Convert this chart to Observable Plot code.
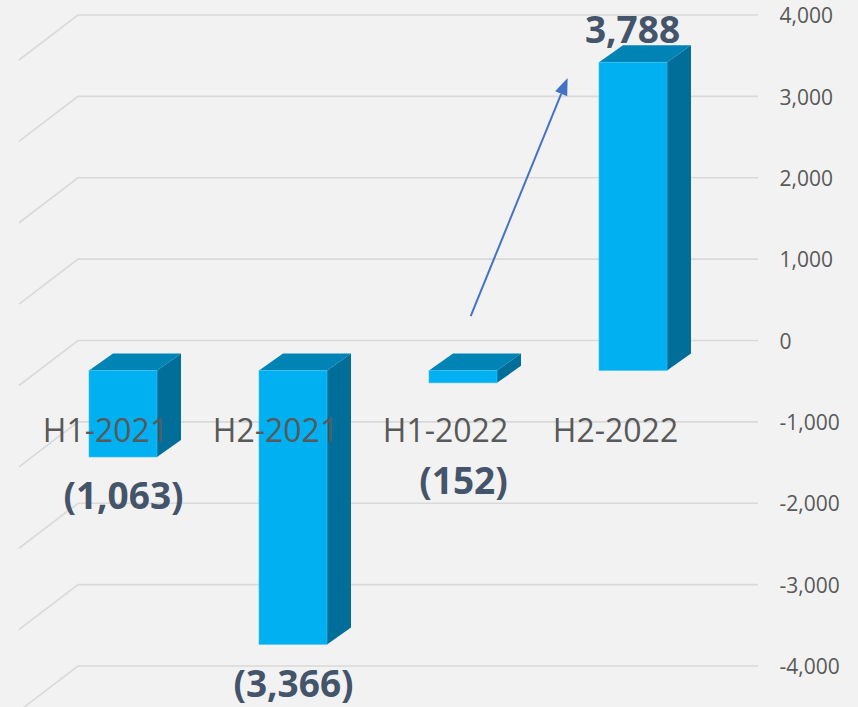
<!DOCTYPE html>
<html>
<head>
<meta charset="utf-8">
<script src="https://cdn.jsdelivr.net/npm/d3@7"></script>
<script src="https://cdn.jsdelivr.net/npm/@observablehq/plot@0.6"></script>
<style>
  html, body { margin: 0; padding: 0; background: #F2F2F2; }
  #chart svg { display: block; }
</style>
</head>
<body>
<div id="chart"></div>
<script>
// ---- data ----
const categories = ["H1-2021", "H2-2021", "H1-2022", "H2-2022"];
const values = [-1063, -3366, -152, 3788];
const yTicks = [-4000, -3000, -2000, -1000, 0, 1000, 2000, 3000, 4000];
// annotation arrow (category-position, value) from start to tip
const arrowX = [2.31, 2.88];
const arrowY = [300, 3225];

// ---- styling ----
const FONT = "'Open Sans', 'DejaVu Sans', sans-serif";
const frontColor = "#00B0F0", topColor = "#0083B5", sideColor = "#006E99";
const gridColor = "#D9D9D9";
const F = {dx: -40, dy: 30};   // front face offset from back wall
const B = {dx: -16, dy: 13};   // back face offset from back wall
const FLOOR = {dx: -59, dy: 45}; // floor depth
const labelClearValue = -870;  // keep negative labels clear of category labels

const data = categories.map((c, i) => ({category: c, value: values[i], pos: i + 0.5}));
const fmtTick = d => d.toLocaleString("en-US");
const fmtValue = v => v < 0 ? `(${Math.abs(v).toLocaleString("en-US")})` : v.toLocaleString("en-US");

const chart = Plot.plot({
  width: 858,
  height: 707,
  marginTop: 15,
  marginBottom: 41,
  marginLeft: 78,
  marginRight: 100,
  style: {background: "#F2F2F2", fontFamily: FONT, overflow: "visible"},
  x: {domain: [0, categories.length], axis: null},
  y: {domain: [-4000, 4000], axis: null},
  marks: [
    // gridlines with perspective floor/side edge
    Plot.ruleY(yTicks, {
      y: d => d,
      stroke: gridColor,
      render: (I, scales, values, dims) => {
        const g = d3.create("svg:g");
        const x0 = dims.marginLeft, x1 = dims.width - dims.marginRight;
        for (const i of I) {
          const y = values.y[i];
          g.append("path")
            .attr("d", `M${x0 + FLOOR.dx},${y + FLOOR.dy}L${x0},${y}L${x1},${y}`)
            .attr("fill", "none")
            .attr("stroke", gridColor)
            .attr("stroke-width", 1.6);
        }
        return g.node();
      }
    }),
    // y tick labels on the right
    Plot.text(yTicks, {
      y: d => d,
      frameAnchor: "right",
      dx: 21,
      dy: 1,
      textAnchor: "start",
      text: fmtTick,
      fill: "#595959",
      fontSize: 21,
      fontFamily: FONT
    }),
    // 3D bars
    Plot.rectY(data, {
      x1: d => d.pos - 0.2,
      x2: d => d.pos + 0.2,
      y1: d => 0,
      y2: d => d.value,
      fill: frontColor,
      render: (I, scales, v) => {
        const g = d3.create("svg:g");
        for (const i of I) {
          const l = Math.min(v.x1[i], v.x2[i]), r = Math.max(v.x1[i], v.x2[i]);
          const t = Math.min(v.y1[i], v.y2[i]), b = Math.max(v.y1[i], v.y2[i]);
          const fl = l + F.dx, fr = r + F.dx, ft = t + F.dy, fb = b + F.dy;
          const bl = l + B.dx, br = r + B.dx, bt = t + B.dy, bb = b + B.dy;
          g.append("path")
            .attr("d", `M${fr},${ft}L${br},${bt}L${br},${bb}L${fr},${fb}Z`)
            .attr("fill", sideColor);
          g.append("path")
            .attr("d", `M${fl},${ft}L${bl},${bt}L${br},${bt}L${fr},${ft}Z`)
            .attr("fill", topColor);
          g.append("rect")
            .attr("x", fl).attr("y", ft)
            .attr("width", fr - fl).attr("height", fb - ft)
            .attr("fill", frontColor)
            .attr("stroke", "#3CC3F4")
            .attr("stroke-width", 0.6);
        }
        return g.node();
      }
    }),
    // category labels
    Plot.text(data, {
      x: "pos",
      y: d => 0,
      dx: -58,
      dy: 91,
      text: "category",
      fill: "#595959",
      fontSize: 32,
      fontFamily: FONT
    }),
    // positive value labels
    Plot.text(data.filter(d => d.value >= 0), {
      x: "pos",
      y: "value",
      dx: F.dx - 1,
      dy: -2,
      text: d => fmtValue(d.value),
      fill: "#44546A",
      fontSize: 37,
      fontWeight: "bold",
      fontFamily: FONT
    }),
    // negative value labels
    Plot.text(data.filter(d => d.value < 0), {
      x: "pos",
      y: d => Math.min(d.value, labelClearValue),
      dx: F.dx,
      dy: 70,
      text: d => fmtValue(d.value),
      fill: "#44546A",
      fontSize: 37,
      fontWeight: "bold",
      fontFamily: FONT
    }),
    // annotation arrow
    Plot.link([0], {
      x1: () => arrowX[0], y1: () => arrowY[0],
      x2: () => arrowX[1], y2: () => arrowY[1],
      stroke: "#4472C4",
      render: (I, scales, v) => {
        const g = d3.create("svg:g");
        for (const i of I) {
          const xa = v.x1[i], ya = v.y1[i], xb = v.x2[i], yb = v.y2[i];
          const ang = Math.atan2(yb - ya, xb - xa);
          const hl = 17, hw = 6.5;
          const bx = xb - hl * Math.cos(ang), by = yb - hl * Math.sin(ang);
          const px = -Math.sin(ang) * hw, py = Math.cos(ang) * hw;
          g.append("line")
            .attr("x1", xa).attr("y1", ya).attr("x2", bx).attr("y2", by)
            .attr("stroke", "#4472C4").attr("stroke-width", 2);
          g.append("path")
            .attr("d", `M${xb},${yb}L${bx + px},${by + py}L${bx - px},${by - py}Z`)
            .attr("fill", "#4472C4");
        }
        return g.node();
      }
    })
  ]
});

document.getElementById("chart").appendChild(chart);
</script>
</body>
</html>
